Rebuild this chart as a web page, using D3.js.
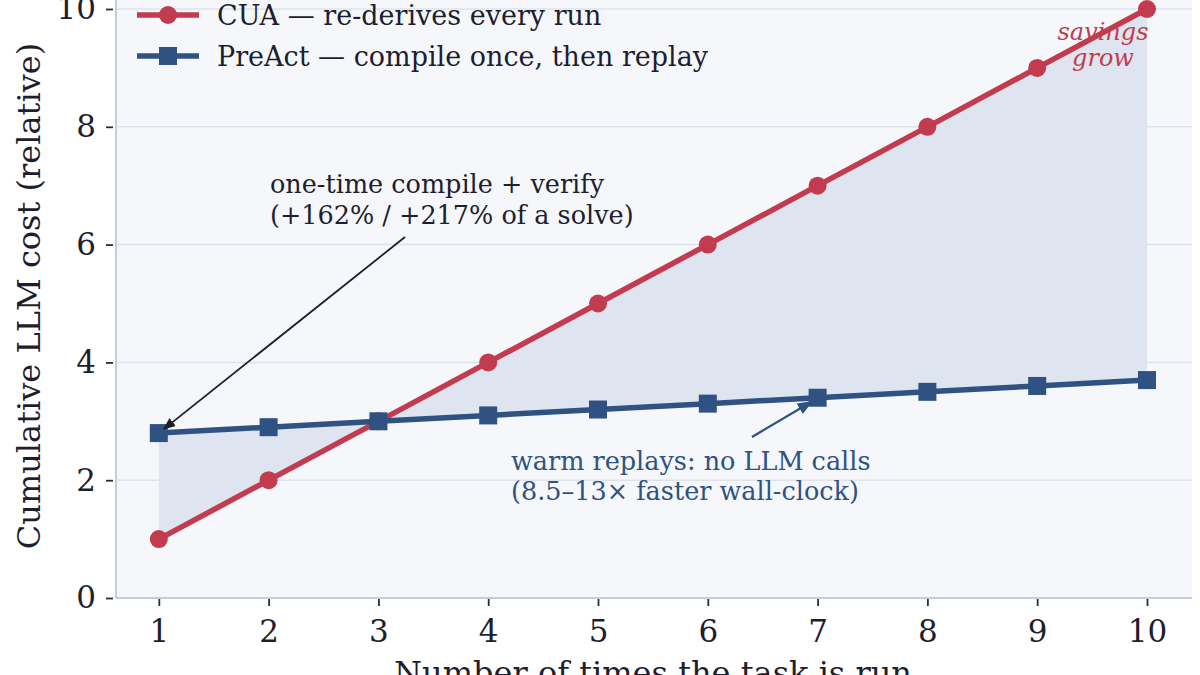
<!DOCTYPE html>
<html>
<head>
<meta charset="utf-8">
<script src="https://cdn.jsdelivr.net/npm/d3@7"></script>
<style>
  body { margin: 0; background: #ffffff; }
  svg { font-family: "DejaVu Serif", serif; }
</style>
</head>
<body>
<div id="chart"></div>
<script>
// data
var runs = [1, 2, 3, 4, 5, 6, 7, 8, 9, 10];
var cuaCost = [1, 2, 3, 4, 5, 6, 7, 8, 9, 10];
var preactCost = [2.8, 2.9, 3.0, 3.1, 3.2, 3.3, 3.4, 3.5, 3.6, 3.7];
var yTicks = [0, 2, 4, 6, 8, 10];
var seriesNames = ["CUA \u2014 re-derives every run", "PreAct \u2014 compile once, then replay"];

var W = 1200, H = 675;
var red = "#c23b4e", blue = "#2f5282";

var svg = d3.select("#chart").append("svg")
    .attr("width", W)
    .attr("height", H);

var x = d3.scaleLinear().domain([0.61, 10.41]).range([116, 1192]);
var y = d3.scaleLinear().domain([0, 10]).range([598, 9]);

// plot background
svg.append("rect")
    .attr("x", x.range()[0]).attr("y", -30)
    .attr("width", x.range()[1] - x.range()[0])
    .attr("height", y(0) + 30)
    .style("fill", "#f5f7fb");

// grid
svg.selectAll(".grid")
    .data(yTicks.filter(function (d) { return d > 0; }))
    .enter().append("line")
    .attr("x1", x.range()[0]).attr("x2", x.range()[1])
    .attr("y1", function (d) { return y(d); })
    .attr("y2", function (d) { return y(d); })
    .style("stroke", "#dce3ee")
    .style("stroke-width", 1.5);

// fill between
var area = d3.area()
    .x(function (d) { return x(d); })
    .y0(function (d, i) { return y(cuaCost[i]); })
    .y1(function (d, i) { return y(preactCost[i]); });
svg.append("path")
    .attr("d", area(runs))
    .style("fill", "#dfe5f0");

// spines
svg.append("line")
    .attr("x1", x.range()[0]).attr("x2", x.range()[0])
    .attr("y1", -30).attr("y2", y(0))
    .style("stroke", "#c3cddc").style("stroke-width", 2);
svg.append("line")
    .attr("x1", x.range()[0]).attr("x2", x.range()[1])
    .attr("y1", y(0)).attr("y2", y(0))
    .style("stroke", "#c3cddc").style("stroke-width", 2);

// axes
var xAxis = svg.append("g")
    .attr("transform", "translate(0," + (y(0) + 1) + ")")
    .call(d3.axisBottom(x).tickValues(runs).tickSize(7).tickPadding(14).tickFormat(d3.format("d")));
var yAxis = svg.append("g")
    .attr("transform", "translate(" + (x.range()[0] - 3) + ",0)")
    .call(d3.axisLeft(y).tickValues(yTicks).tickSize(7).tickPadding(10));
[xAxis, yAxis].forEach(function (a) {
    a.select(".domain").remove();
    a.selectAll("line").style("stroke", "#2b2b3a").style("stroke-width", 1.8);
    a.selectAll("text")
        .style("font-family", "DejaVu Serif, serif")
        .style("font-size", "31px")
        .style("fill", "#1e1e2e");
});

// axis labels
svg.append("text")
    .attr("transform", "translate(40,296) rotate(-90)")
    .attr("text-anchor", "middle")
    .style("font-size", "32px")
    .style("fill", "#1e1e2e")
    .text("Cumulative LLM cost (relative)");
svg.append("text")
    .attr("x", 653).attr("y", 684)
    .attr("text-anchor", "middle")
    .style("font-size", "32px")
    .style("fill", "#1e1e2e")
    .text("Number of times the task is run");

// lines
var line = d3.line()
    .x(function (d) { return x(d[0]); })
    .y(function (d) { return y(d[1]); });

svg.append("path")
    .attr("d", line(runs.map(function (r, i) { return [r, cuaCost[i]]; })))
    .style("fill", "none").style("stroke", red).style("stroke-width", 5.5);
svg.selectAll(".cuaDot")
    .data(runs)
    .enter().append("circle")
    .attr("cx", function (d) { return x(d); })
    .attr("cy", function (d, i) { return y(cuaCost[i]); })
    .attr("r", 9)
    .style("fill", red);

svg.append("path")
    .attr("d", line(runs.map(function (r, i) { return [r, preactCost[i]]; })))
    .style("fill", "none").style("stroke", blue).style("stroke-width", 5.5);
svg.selectAll(".preDot")
    .data(runs)
    .enter().append("rect")
    .attr("x", function (d) { return x(d) - 9; })
    .attr("y", function (d, i) { return y(preactCost[i]) - 9; })
    .attr("width", 18).attr("height", 18)
    .style("fill", blue);

// legend
var legend = svg.append("g");
[red, blue].forEach(function (c, i) {
    var ly = 15 + i * 41;
    legend.append("line")
        .attr("x1", 137).attr("x2", 199).attr("y1", ly).attr("y2", ly)
        .style("stroke", c).style("stroke-width", 5.5);
    if (i === 0) {
        legend.append("circle").attr("cx", 168).attr("cy", ly).attr("r", 9).style("fill", c);
    } else {
        legend.append("rect").attr("x", 159).attr("y", ly - 9).attr("width", 18).attr("height", 18).style("fill", c);
    }
    legend.append("text")
        .attr("x", 217).attr("y", ly + 10)
        .style("font-size", "27px")
        .style("fill", "#1e1e2e")
        .text(seriesNames[i]);
});

// annotations
var defs = svg.append("defs");
function arrowHead(id, color) {
    defs.append("marker")
        .attr("id", id)
        .attr("viewBox", "0 0 10 10")
        .attr("refX", 9).attr("refY", 5)
        .attr("markerWidth", 7).attr("markerHeight", 7)
        .attr("orient", "auto")
        .append("path")
        .attr("d", "M0,1 L10,5 L0,9 z")
        .style("fill", color);
}
arrowHead("arrBlack", "#1e1e2e");
arrowHead("arrBlue", blue);

svg.append("line")
    .attr("x1", 405).attr("y1", 237)
    .attr("x2", x(1) + 5).attr("y2", y(preactCost[0]) - 4)
    .style("stroke", "#1e1e2e").style("stroke-width", 1.8)
    .attr("marker-end", "url(#arrBlack)");
var a1 = svg.append("text")
    .style("font-size", "25.5px").style("fill", "#1e1e2e");
a1.append("tspan").attr("x", 270).attr("y", 193).text("one-time compile + verify");
a1.append("tspan").attr("x", 270).attr("y", 224).text("(+162% / +217% of a solve)");

svg.append("line")
    .attr("x1", 752).attr("y1", 437)
    .attr("x2", x(7) - 6).attr("y2", y(preactCost[6]) + 4)
    .style("stroke", blue).style("stroke-width", 2.2)
    .attr("marker-end", "url(#arrBlue)");
var a2 = svg.append("text")
    .style("font-size", "25.5px").style("fill", blue);
a2.append("tspan").attr("x", 511).attr("y", 470).text("warm replays: no LLM calls");
a2.append("tspan").attr("x", 511).attr("y", 500).text("(8.5\u201313\u00d7 faster wall-clock)");

var a3 = svg.append("text")
    .attr("text-anchor", "middle")
    .style("font-size", "24px").style("font-style", "italic").style("fill", red);
a3.append("tspan").attr("x", 1103).attr("y", 40).text("savings");
a3.append("tspan").attr("x", 1103).attr("y", 66).text("grow");
</script>
</body>
</html>
